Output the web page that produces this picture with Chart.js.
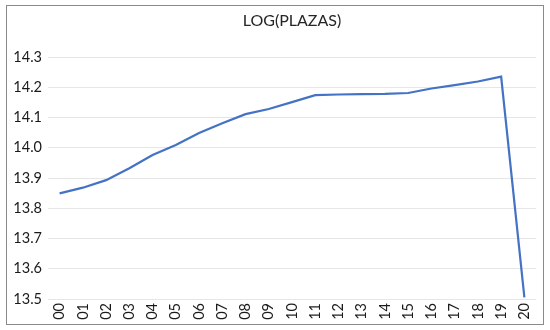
<!DOCTYPE html>
<html>
<head>
<meta charset="utf-8">
<script src="https://cdn.jsdelivr.net/npm/chart.js@4/dist/chart.umd.min.js"></script>
<style>
  html, body { margin: 0; padding: 0; background: #ffffff; }
  #wrap { position: relative; width: 550px; height: 330px; }
</style>
</head>
<body>
<div id="wrap"><canvas id="c" width="550" height="330"></canvas></div>
<script>
const chartTitle = 'LOG(PLAZAS)';
const years = ['00','01','02','03','04','05','06','07','08','09','10','11','12','13','14','15','16','17','18','19','20'];
const logPlazas = [13.849, 13.868, 13.893, 13.932, 13.976, 14.009, 14.049, 14.081, 14.111, 14.128, 14.151, 14.174, 14.176, 14.177, 14.178, 14.181, 14.196, 14.207, 14.219, 14.235, 13.505];
const yMin = 13.5, yMax = 14.3, yStep = 0.1;

const borderPlugin = {
  id: 'outerBorder',
  afterDraw(chart) {
    const ctx = chart.ctx;
    ctx.save();
    ctx.strokeStyle = '#8a8a8a';
    ctx.lineWidth = 1;
    ctx.strokeRect(6.5, 5.5, 537, 319);
    ctx.restore();
  }
};

const fontFam = 'Lato, "Open Sans", "Liberation Sans", sans-serif';

new Chart(document.getElementById('c'), {
  type: 'line',
  data: {
    labels: years,
    datasets: [{
      data: logPlazas,
      borderColor: '#4472C4',
      borderWidth: 2.2,
      pointRadius: 0,
      tension: 0,
      fill: false
    }]
  },
  options: {
    responsive: false,
    animation: false,
    devicePixelRatio: 1,
    layout: { padding: { left: 8, right: 14, top: 0, bottom: 5 } },
    plugins: {
      legend: { display: false },
      tooltip: { enabled: false },
      title: {
        display: true,
        text: chartTitle,
        fullSize: false,
        color: '#262626',
        font: { family: fontFam, size: 16, weight: 'normal' },
        padding: { top: 11, bottom: 26.8 }
      }
    },
    scales: {
      x: {
        offset: true,
        grid: { display: false, drawTicks: false },
        border: { display: false },
        ticks: {
          color: '#1a1a1a',
          font: { family: fontFam, size: 14.5 },
          minRotation: 90,
          maxRotation: 90,
          autoSkip: false,
          padding: 4
        },
        afterFit(scale) { scale.height = 26; }
      },
      y: {
        min: yMin,
        max: yMax,
        grid: { color: '#e6e6e6', lineWidth: 1, drawTicks: false },
        border: { display: false },
        ticks: {
          stepSize: yStep,
          color: '#1a1a1a',
          font: { family: fontFam, size: 14.5 },
          padding: 6,
          callback: v => Number(v).toFixed(1)
        },
        afterFit(scale) { scale.width = 40; }
      }
    }
  },
  plugins: [borderPlugin]
});
</script>
</body>
</html>
